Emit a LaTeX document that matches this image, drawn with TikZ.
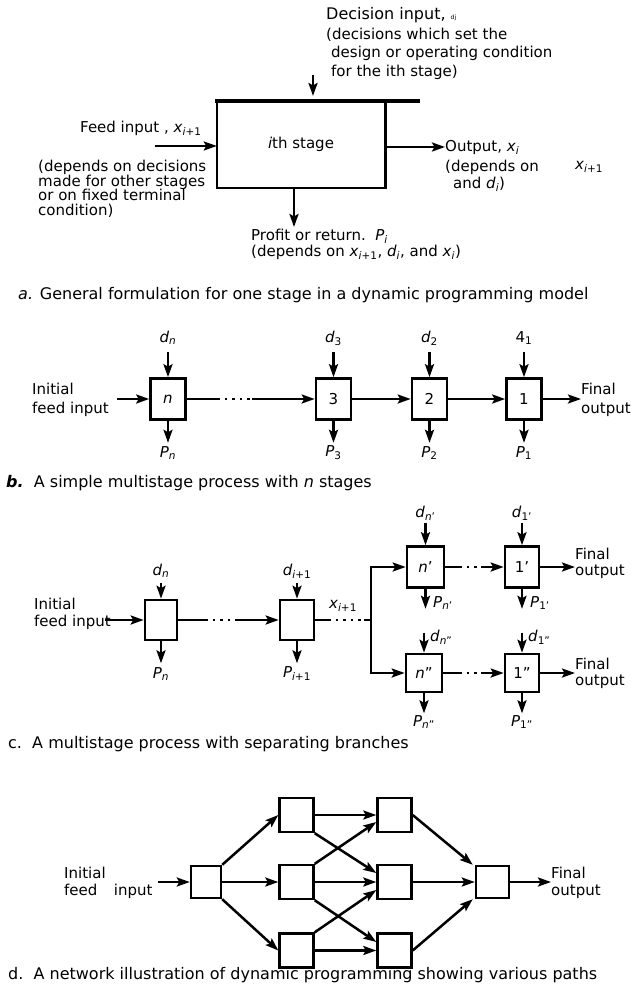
\documentclass[tikz,border=0pt]{standalone}
\usepackage{fontspec}
\setmainfont{DejaVu Sans}
\usetikzlibrary{arrows.meta}
\newcommand{\vsub}[2]{\textit{#1}\textsubscript{#2}}
\newcommand{\ii}{\textit{i}}
\newcommand{\nn}{\textit{n}}
\begin{document}
\begin{tikzpicture}[x=1pt,y=-1pt,
 every node/.style={inner sep=0pt, font=\fontsize{15}{17}\selectfont},
 stagebox/.style={draw, line width=2.6pt, minimum width=35pt, minimum height=41pt},
 netbox/.style={draw, line width=2.4pt, minimum width=34pt, minimum height=34pt},
 arr/.style={line width=2.5pt, -{Stealth[length=13pt,width=9pt,inset=2.5pt]}},
 ln/.style={line width=2.5pt},
 dotln/.style={line width=2.6pt, dash pattern=on 2.6pt off 5pt},
 txt/.style={anchor=west},
 two/.style={anchor=west, align=left, font=\fontsize{15}{19.5}\selectfont},
 captxt/.style={anchor=west, font=\fontsize{16}{18}\selectfont}]
\useasboundingbox (0,0) rectangle (631,1000);

% ---------------- part a ----------------
\node[minimum width=168pt, minimum height=87pt] (st) at (301,144.5) {\ii th stage};
\draw[line width=3.6pt] ([xshift=-1.5pt]st.north west) -- ([xshift=35pt]st.north east);
\draw[line width=2.6pt] (st.north west) -- (st.south west) -- (st.south east) -- (st.north east);
\coordinate (dsrc) at (313,75);
\coordinate (dtip) at (313,96);
\draw[arr] (dsrc) -- (dtip);
\node[txt] (dec1) at (326,15) {\fontsize{16}{18}\selectfont Decision input, {\fontsize{6}{7}\selectfont dj}};
\node[txt] (dec2) at (326,35) {(decisions which set the};
\node[txt] (dec3) at (331,53) {design or operating condition};
\node[txt] (dec4) at (331,72) {for the ith stage)};
\node[txt] (feed) at (80,128) {Feed input , \vsub{x}{\ii+1}};
\coordinate (fsrc) at (155,146);
\draw[arr] (fsrc) -- (fsrc -| st.west);
\node[txt] (outl) at (445,147) {Output, \vsub{x}{\ii}};
\draw[arr] (st.east |- outl.west) -- (outl.west);
\node[anchor=north west, align=left, font=\fontsize{15}{14.7}\selectfont] (dep1) at (38,160)
  {(depends on decisions\\made for other stages\\or on fixed terminal\\condition)};
\node[txt] (dep2) at (445,167) {(depends on};
\node[txt] (dep2x) at (575,167) {\vsub{x}{\ii+1}};
\node[txt] (dep3) at (453,184) {and \vsub{d}{\ii})};
\coordinate (pend) at (294,227);
\draw[arr] (st.south -| pend) -- (pend);
\node[txt] (prof1) at (251,236) {Profit or return.\ \ \vsub{P}{\ii}};
\node[txt] (prof2) at (251,252) {(depends on \vsub{x}{\ii+1}, \vsub{d}{\ii}, and \vsub{x}{\ii})};
\node[captxt] (capa) at (18,295) {\textit{a.} General formulation for one stage in a dynamic programming model};

% ---------------- part b ----------------
\node[stagebox] (bn) at (168,399) {\nn};
\node[stagebox] (b3) at (333.5,399) {3};
\node[stagebox] (b2) at (429.5,399) {2};
\node[stagebox] (b1) at (524,399) {1};
\node[two] (binit) at (32,400) {Initial\\feed input};
\coordinate (bin) at (117,399);
\draw[arr] (bin) -- (bn);
\coordinate (bd1) at (217,399);
\coordinate (bd2) at (252,399);
\draw[ln] (bn) -- (bd1);
\draw[dotln] (bd1) -- (bd2);
\draw[arr] (bd2) -- (b3);
\draw[arr] (b3) -- (b2);
\draw[arr] (b2) -- (b1);
\node[two] (bfin) at (581,400) {Final\\output};
\draw[arr] (b1) -- (b1 -| bfin.west);
% decisions and returns
\node (bdn) at (168,338) {\vsub{d}{\nn}};
\node (bd3) at (333.5,338) {\vsub{d}{3}};
\node (bd2l) at (429.5,338) {\vsub{d}{2}};
\node (bd1l) at (524,338) {4\textsubscript{1}};
\node (bpn) at (168,453) {\vsub{P}{\nn}};
\node (bp3) at (333.5,453) {\vsub{P}{3}};
\node (bp2) at (429.5,453) {\vsub{P}{2}};
\node (bp1) at (524,453) {\vsub{P}{1}};
\foreach \b in {bn,b3,b2,b1}{
  \draw[arr] ([yshift=25pt]\b.north) -- (\b.north);
  \draw[arr] (\b.south) -- ([yshift=-22pt]\b.south);
}
\node[captxt] (capb) at (6,483) {\textbf{\textit{b.}}\ \ A simple multistage process with \nn\ stages};

% ---------------- part c ----------------
\node[stagebox, minimum width=32pt, minimum height=40pt] (c1) at (161,620) {};
\node[stagebox, minimum width=34pt, minimum height=40pt] (c2) at (297,620) {};
\node[two, font=\fontsize{15}{17}\selectfont] (cinit) at (34,614) {Initial\\feed input};
\coordinate (cin) at (105,620);
\draw[arr] (cin) -- (c1);
\coordinate (cd1) at (205,620);
\coordinate (cd2) at (237,620);
\draw[ln] (c1) -- (cd1);
\draw[dotln] (cd1) -- (cd2);
\draw[arr] (cd2) -- (c2);
\node (cdn) at (161,571) {\vsub{d}{\nn}};
\node (cdi) at (297,571) {\vsub{d}{\ii+1}};
\node (cpn) at (161,674) {\vsub{P}{\nn}};
\node (cpi) at (297,674) {\vsub{P}{\ii+1}};
\foreach \b in {c1,c2}{
  \draw[arr] ([yshift=16pt]\b.north) -- (\b.north);
  \draw[arr] (\b.south) -- ([yshift=-22pt]\b.south);
}
\node (cx) at (343,606) {\vsub{x}{\ii+1}};
\coordinate (ce1) at (328,620);
\coordinate (ce2) at (364,620);
\coordinate (cj) at (371,620);
\draw[ln] (c2) -- (ce1);
\draw[dotln] (ce1) -- (ce2);
\draw[ln] (ce2) -- (cj);
% upper branch
\node[stagebox, minimum width=37pt] (np) at (425.5,567) {\nn'};
\node[stagebox, minimum width=34pt] (op) at (522,567) {1'};
\coordinate (cjt) at (371,567);
\coordinate (cjb) at (371,673);
\draw[ln] ([yshift=-1.25pt]cjb) -- ([yshift=1.25pt]cjt);
\draw[arr] (cjt) -- (np);
\coordinate (cu1) at (459,567);
\coordinate (cu2) at (481,567);
\draw[ln] (np) -- (cu1);
\draw[dotln] (cu1) -- (cu2);
\draw[arr] (cu2) -- (op);
\node[two, font=\fontsize{15}{16}\selectfont] (cfin1) at (575,563) {Final\\output};
\draw[arr] (op) -- (op -| cfin1.west);
\node (cdnp) at (425.5,513) {\vsub{d}{\nn'}};
\node (cd1p) at (522,513) {\vsub{d}{1'}};
\node[txt] (cpnp) at (433,603) {\vsub{P}{\nn'}};
\node[txt] (cp1p) at (530,603) {\vsub{P}{1'}};
\foreach \b in {np,op}{
  \draw[arr] ([yshift=22pt]\b.north) -- (\b.north);
  \draw[arr] (\b.south) -- ([yshift=-20pt]\b.south);
}
% lower branch
\node[stagebox, minimum width=36pt, minimum height=38pt] (npp) at (424,673) {\nn''};
\node[stagebox, minimum width=34pt, minimum height=38pt] (opp) at (522,673) {1''};
\draw[arr] (cjb) -- (npp);
\coordinate (cl1) at (459,673);
\coordinate (cl2) at (481,673);
\draw[ln] (npp) -- (cl1);
\draw[dotln] (cl1) -- (cl2);
\draw[arr] (cl2) -- (opp);
\node[two, font=\fontsize{15}{16}\selectfont] (cfin2) at (575,673) {Final\\output};
\draw[arr] (opp) -- (opp -| cfin2.west);
\node[txt] (cdnpp) at (430,637) {\vsub{d}{\nn''}};
\node[txt] (cd1pp) at (528,637) {\vsub{d}{1''}};
\node (cpnpp) at (424,722) {\vsub{P}{\nn''}};
\node (cp1pp) at (522,722) {\vsub{P}{1''}};
\foreach \b in {npp,opp}{
  \draw[arr] ([yshift=20pt]\b.north) -- (\b.north);
  \draw[arr] (\b.south) -- ([yshift=-20pt]\b.south);
}
\node[captxt] (capc) at (8,744) {c.\ \ A multistage process with separating branches};

% ---------------- part d ----------------
\node[netbox, minimum width=30pt, minimum height=32pt] (A) at (206,882) {};
\node[netbox] (B1) at (296.5,815) {};
\node[netbox] (B2) at (296.5,882) {};
\node[netbox] (B3) at (296.5,950.5) {};
\node[netbox] (C1) at (394.5,815) {};
\node[netbox] (C2) at (394.5,882) {};
\node[netbox] (C3) at (394.5,950.5) {};
\node[netbox, minimum width=33pt, minimum height=32pt] (D) at (492.5,882) {};
\node[two, font=\fontsize{15}{17}\selectfont] (dinit) at (64,883) {Initial\\feed\hspace{1.1em}input};
\coordinate (dinp) at (158,882);
\draw[arr] (dinp) -- (A);
\draw[arr] (A.north east) -- (B1.west);
\draw[arr] (A) -- (B2);
\draw[arr] (A.south east) -- (B3.west);
\draw[arr] (B1) -- (C1);
\draw[arr] (B1.south east) -- ([yshift=9pt]C2.west);
\draw[arr] (B2.north east) -- ([yshift=-7pt]C1.west);
\draw[arr] (B2) -- (C2);
\draw[arr] (B2.south east) -- ([yshift=8.5pt]C3.west);
\draw[arr] (B3.north east) -- ([yshift=-8pt]C2.west);
\draw[arr] (B3) -- (C3);
\draw[arr] (C1.east) -- ([xshift=-2pt]D.north west);
\draw[arr] (C2) -- (D);
\draw[arr] (C3.east) -- ([xshift=-2pt]D.south west);
\node[two, font=\fontsize{15}{17}\selectfont] (dfin) at (551,883) {Final\\output};
\draw[arr] (D) -- (D -| dfin.west);
\node[captxt] (capd) at (8,975) {d.\ \ A network illustration of dynamic programming showing various paths};
\end{tikzpicture}
\end{document}
